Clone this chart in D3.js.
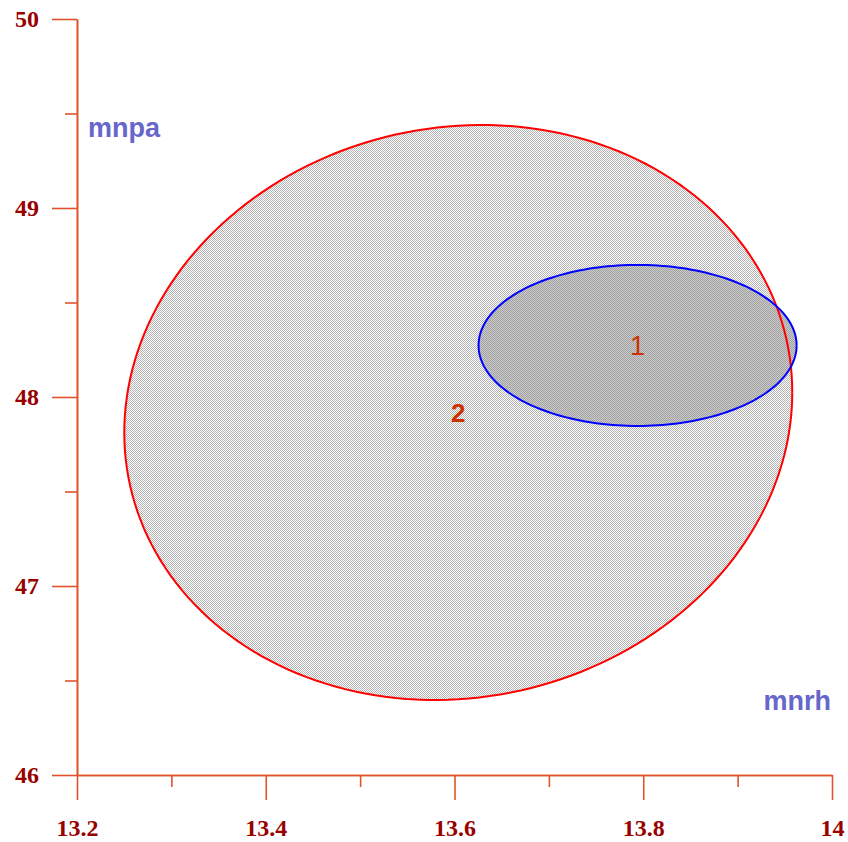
<!DOCTYPE html>
<html>
<head>
<meta charset="utf-8">
<script src="https://cdn.jsdelivr.net/npm/d3@7"></script>
<style>
  body { margin: 0; background: #fff; }
  svg { display: block; }
</style>
</head>
<body>
<svg id="chart" width="848" height="842"></svg>
<script>
// axis ranges and ticks
var xDomain = [13.2, 14];
var yDomain = [46, 50];
var xMajor = [13.2, 13.4, 13.6, 13.8, 14];
var xMinor = [13.3, 13.5, 13.7, 13.9];
var yMajor = [46, 47, 48, 49, 50];
var yMinor = [46.5, 47.5, 48.5, 49.5];
var xTickLabels = ["13.2", "13.4", "13.6", "13.8", "14"];
var yTickLabels = ["46", "47", "48", "49", "50"];

// clusters: label, centre x, centre y, sd x, sd y, correlation
var clusterNames = ["2", "1"];
var clusterCx = [13.604, 13.794];
var clusterCy = [47.918, 48.273];
var clusterSx = [0.3539, 0.1685];
var clusterSy = [1.521, 0.426];
var clusterR = [0.07, 0.0];

var xLabel = "mnrh", yLabel = "mnpa";

var svg = d3.select("#chart");
var x = d3.scaleLinear().domain(xDomain).range([77, 832]);
var y = d3.scaleLinear().domain(yDomain).range([775, 19]);

var defs = svg.append("defs");
function checker(id, c1, c2) {
  var p = defs.append("pattern").attr("id", id)
    .attr("patternUnits", "userSpaceOnUse")
    .attr("width", 2).attr("height", 2);
  p.append("rect").attr("width", 2).attr("height", 2).attr("fill", c2);
  p.append("rect").attr("x", 0).attr("y", 0).attr("width", 1).attr("height", 1).attr("fill", c1).attr("shape-rendering", "crispEdges");
  p.append("rect").attr("x", 1).attr("y", 1).attr("width", 1).attr("height", 1).attr("fill", c1).attr("shape-rendering", "crispEdges");
}
checker("patOuter", "#b2b2b2", "#ffffff");
checker("patInner", "#a2a2a2", "#cacaca");

function ellipsePts(i) {
  var pts = [];
  var r = clusterR[i], k = Math.sqrt(1 - r * r);
  for (var j = 0; j <= 200; j++) {
    var t = j / 200 * 2 * Math.PI;
    pts.push([clusterCx[i] + clusterSx[i] * Math.cos(t),
              clusterCy[i] + clusterSy[i] * (r * Math.cos(t) + k * Math.sin(t))]);
  }
  return pts;
}
var line = d3.line().x(function(d){return x(d[0]);}).y(function(d){return y(d[1]);});

var fills = ["url(#patOuter)", "url(#patInner)"];
var strokes = ["#ff0000", "#0000ff"];

var g = svg.append("g");
clusterNames.forEach(function(n, i) {
  g.append("path").attr("d", line(ellipsePts(i))).attr("fill", fills[i]).attr("stroke", "none");
});
clusterNames.forEach(function(n, i) {
  g.append("path").attr("d", line(ellipsePts(i))).attr("fill", "none")
    .attr("stroke", strokes[i]).attr("stroke-width", 2);
});

// cluster labels
g.append("text").attr("x", x(clusterCx[0])).attr("y", y(clusterCy[0]))
  .attr("text-anchor", "middle").attr("dy", "0.36em")
  .attr("font-family", "Liberation Sans, Arial, sans-serif").attr("font-weight", "bold")
  .attr("font-size", 26).attr("fill", "#cc3300").text(clusterNames[0]);
g.append("text").attr("x", x(clusterCx[1])).attr("y", y(clusterCy[1]))
  .attr("text-anchor", "middle").attr("dy", "0.36em")
  .attr("font-family", "Liberation Sans, Arial, sans-serif")
  .attr("font-size", 27).attr("fill", "#cc3300").text(clusterNames[1]);

// axes
var axisColor = "#e0532b";
function styleAxis(sel) {
  sel.attr("font-size", null).attr("font-family", null);
  sel.select(".domain").attr("stroke", axisColor).attr("stroke-width", 1.6);
  sel.selectAll(".tick line").attr("stroke", axisColor).attr("stroke-width", 1.6);
  sel.selectAll(".tick text").attr("fill", "#990000")
    .style("font-family", "'Liberation Serif', 'Times New Roman', serif")
    .style("font-weight", "bold").style("font-size", "24px");
}

var yAxis = svg.append("g").attr("transform", "translate(77,0)")
  .call(d3.axisLeft(y).tickValues(yMajor).tickSize(25).tickSizeOuter(0).tickPadding(13)
    .tickFormat(function(d, i){ return yTickLabels[i]; }));
styleAxis(yAxis);
var yMin = svg.append("g").attr("transform", "translate(77,0)")
  .call(d3.axisLeft(y).tickValues(yMinor).tickSize(12).tickSizeOuter(0).tickFormat(""));
styleAxis(yMin);

var xAxis = svg.append("g").attr("transform", "translate(0,775)")
  .call(d3.axisBottom(x).tickValues(xMajor).tickSize(25).tickSizeOuter(0).tickPadding(19)
    .tickFormat(function(d, i){ return xTickLabels[i]; }));
styleAxis(xAxis);
var xMin = svg.append("g").attr("transform", "translate(0,775)")
  .call(d3.axisBottom(x).tickValues(xMinor).tickSize(12).tickSizeOuter(0).tickFormat(""));
styleAxis(xMin);

// variable names
svg.append("text").attr("x", 88).attr("y", 137)
  .attr("font-family", "Liberation Sans, Arial, sans-serif").attr("font-weight", "bold")
  .attr("font-size", 27).attr("fill", "#6666cc").text(yLabel);
svg.append("text").attr("x", 831).attr("y", 710).attr("text-anchor", "end")
  .attr("font-family", "Liberation Sans, Arial, sans-serif").attr("font-weight", "bold")
  .attr("font-size", 27).attr("fill", "#6666cc").text(xLabel);
</script>
</body>
</html>
